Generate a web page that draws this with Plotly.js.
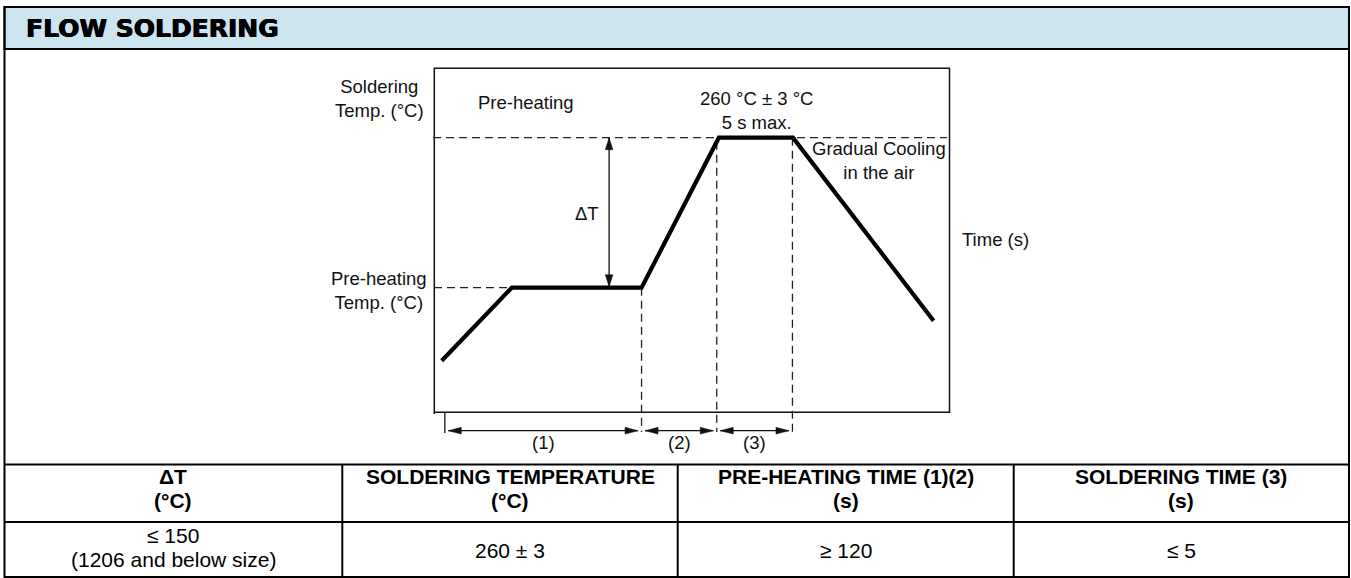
<!DOCTYPE html>
<html><head><meta charset="utf-8">
<script src="https://cdn.plot.ly/plotly-3.0.1.min.js"></script>
<style>html,body{margin:0;padding:0;background:#fff;overflow:hidden}</style>
</head><body><div id="chart" style="width:1351px;height:578px"></div>
<script>
// ---------------- data ----------------
const chartTitle = 'FLOW SOLDERING';
const profileTime = [1.5, 15.1, 40.3, 55.3, 69.7, 97.0];   // schematic time units
const profileTemp = [37, 110, 110, 260, 260, 77];           // schematic °C
const solderTemp = 260;
const preheatTemp = 110;
const phaseStart = [2.1, 40.3, 54.9];
const phaseEnd = [40.3, 54.9, 69.6];
const phaseLabels = ['(1)', '(2)', '(3)'];
const deltaTTime = 34.0;
const tableHeaders = ['ΔT<br>(°C)', 'SOLDERING TEMPERATURE<br>(°C)', 'PRE-HEATING TIME (1)(2)<br>(s)', 'SOLDERING TIME (3)<br>(s)'];
const tableValues = ['≤ 150<br>(1206 and below size)', '260 ± 3', '≥ 120', '≤ 5'];

// ---------------- layout helpers ----------------
const W = 1351, H = 578;
const X0_PX = 434, PX_PER_T = 5.15;          // pixel of t=0 and scale
const REF_PY = 137.7, PX_PER_DEG = 1.0;      // pixel of the soldering temperature level
const xRange = [(0 - X0_PX) / PX_PER_T, (W - X0_PX) / PX_PER_T];
const yRange = [solderTemp - (H - REF_PY) / PX_PER_DEG, solderTemp + REF_PY / PX_PER_DEG];
const tx = px => (px - X0_PX) / PX_PER_T;
const ty = py => solderTemp - (py - REF_PY) / PX_PER_DEG;
const PX = px => px / W;
const PY = py => 1 - py / H;

const INK = '#111';
const FONT = 'Liberation Sans, Arial, Helvetica, sans-serif';
const shapes = [];
const annotations = [];

// ---------- frame / table (paper) ----------
const L = 4.5, R = 1349, T = 7, B = 577;
shapes.push({type:'rect', xref:'paper', yref:'paper', x0:PX(L), x1:PX(R), y0:PY(T), y1:PY(49),
  fillcolor:'#cde4f1', line:{color:'#000', width:2}, layer:'below'});
shapes.push({type:'rect', xref:'paper', yref:'paper', x0:PX(L), x1:PX(R), y0:PY(T), y1:PY(B),
  line:{color:'#000', width:2}});
[464.5, 522].forEach(y => shapes.push({type:'line', xref:'paper', yref:'paper', x0:PX(L), x1:PX(R), y0:PY(y), y1:PY(y), line:{color:'#000', width:2}}));
const colEdges = [L, 342.3, 677.7, 1013.7, R];
colEdges.slice(1, -1).forEach(x => shapes.push({type:'line', xref:'paper', yref:'paper', x0:PX(x), x1:PX(x), y0:PY(464.5), y1:PY(B), line:{color:'#000', width:2}}));

annotations.push({xref:'paper', yref:'paper', x:PX(24), y:PY(28.5), xanchor:'left', yanchor:'middle', showarrow:false,
  text:'<b>' + chartTitle + '</b>',
  font:{family:'DejaVu Sans, sans-serif', size:25, color:'#000', shadow:'0.6px 0 0 #000, -0.4px 0 0 #000'}});

function cellLines(text, cx, centerY, spacing, bold) {
  const lines = text.split('<br>');
  const y0 = centerY - (lines.length - 1) * spacing / 2;
  lines.forEach((ln, k) => annotations.push({xref:'paper', yref:'paper', x:PX(cx), y:PY(y0 + k * spacing),
    xanchor:'center', yanchor:'middle', showarrow:false,
    text: bold ? '<b>' + ln + '</b>' : ln, font:{family:FONT, size:21, color:'#000'}}));
}
tableHeaders.forEach((t, i) => {
  const cx = (colEdges[i] + colEdges[i + 1]) / 2;
  cellLines(t, cx, 488, 24, true);
  cellLines(tableValues[i], cx, tableValues[i].includes('<br>') ? 547.5 : 550, 23.5, false);
});

// ---------- diagram (data coords) ----------
const frame = {x0:tx(434.3), x1:tx(949.5), y0:ty(412.3), y1:ty(68.3)};
shapes.push({type:'rect', xref:'x', yref:'y', x0:frame.x0, x1:frame.x1, y0:frame.y0, y1:frame.y1, line:{color:INK, width:1.5}});
shapes.push({type:'line', xref:'x', yref:'y', x0:frame.x0, x1:frame.x0, y0:frame.y0, y1:ty(414), line:{color:INK, width:1.5}});

const dash = {color:'#222', width:1.3, dash:'8px,5px'};
shapes.push({type:'line', xref:'x', yref:'y', x0:tx(433), x1:tx(947), y0:solderTemp, y1:solderTemp, line:dash, layer:'below'});
shapes.push({type:'line', xref:'x', yref:'y', x0:tx(434), x1:profileTime[1], y0:preheatTemp, y1:preheatTemp, line:dash, layer:'below'});

function tempAt(t) {
  for (let i = 0; i < profileTime.length - 1; i++) {
    if (t >= profileTime[i] && t <= profileTime[i + 1]) {
      const f = (t - profileTime[i]) / (profileTime[i + 1] - profileTime[i]);
      return profileTemp[i] + f * (profileTemp[i + 1] - profileTemp[i]);
    }
  }
  return solderTemp;
}
const arrowY = ty(430.7);
phaseEnd.forEach(t => shapes.push({type:'line', xref:'x', yref:'y', x0:t, x1:t, y0:Math.min(tempAt(t), solderTemp), y1:ty(432), line:dash, layer:'below'}));
shapes.push({type:'line', xref:'x', yref:'y', x0:phaseStart[0], x1:phaseStart[0], y0:ty(413), y1:ty(433), line:{color:INK, width:1.3}});

const hLen = 13 / PX_PER_T, hHalf = 3.4 / PX_PER_DEG;
const gap = 3.5 / PX_PER_T;
function hHead(xt, y, dir) {
  return `M ${xt},${y} L ${xt + dir * hLen},${y + hHalf} L ${xt + dir * hLen},${y - hHalf} Z`;
}
phaseStart.forEach((s, i) => {
  const a = s + gap, b = phaseEnd[i] - gap;
  shapes.push({type:'line', xref:'x', yref:'y', x0:a, x1:b, y0:arrowY, y1:arrowY, line:{color:INK, width:1.3}});
  shapes.push({type:'path', xref:'x', yref:'y', path:hHead(a, arrowY, 1), fillcolor:INK, line:{color:INK, width:0.5}});
  shapes.push({type:'path', xref:'x', yref:'y', path:hHead(b, arrowY, -1), fillcolor:INK, line:{color:INK, width:0.5}});
  annotations.push({xref:'x', yref:'y', x:(s + phaseEnd[i]) / 2, y:ty(442), xanchor:'center', yanchor:'middle', showarrow:false,
    text:phaseLabels[i], font:{family:FONT, size:18.5, color:INK}});
});

// ΔT arrow
const vLen = 12 / PX_PER_DEG, vHalf = 3.8 / PX_PER_T;
function vHead(x, yt, dir) {
  return `M ${x},${yt} L ${x + vHalf},${yt + dir * vLen} L ${x - vHalf},${yt + dir * vLen} Z`;
}
shapes.push({type:'line', xref:'x', yref:'y', x0:deltaTTime, x1:deltaTTime, y0:preheatTemp, y1:solderTemp, line:{color:INK, width:1.3}});
shapes.push({type:'path', xref:'x', yref:'y', path:vHead(deltaTTime, solderTemp, -1), fillcolor:INK, line:{color:INK, width:0.5}});
shapes.push({type:'path', xref:'x', yref:'y', path:vHead(deltaTTime, preheatTemp + 1, 1), fillcolor:INK, line:{color:INK, width:0.5}});

// diagram labels
const lbl = (x, y, text, anchor) => annotations.push({xref:'paper', yref:'paper', x:PX(x), y:PY(y), xanchor:anchor || 'center', yanchor:'middle',
  align:'center', showarrow:false, text:text, font:{family:FONT, size:18.5, color:INK}});
lbl(379, 99, 'Soldering<br>Temp. (°C)');
lbl(526, 102.7, 'Pre-heating');
lbl(756, 110.3, '260 °C ± 3 °C<br>5 s max.');
lbl(879.5, 160.3, 'Gradual Cooling<br>in the air');
lbl(960, 239.5, 'Time (s)', 'left');
lbl(379, 290, 'Pre-heating<br>Temp. (°C)');
lbl(587, 213, 'ΔT');

const traces = [{
  type:'scatter', mode:'lines', x:profileTime, y:profileTemp,
  line:{color:'#000', width:4.2}, hoverinfo:'skip', cliponaxis:false
}];

const layout = {
  width:W, height:H, margin:{l:0, r:0, t:0, b:0, pad:0},
  paper_bgcolor:'#fff', plot_bgcolor:'rgba(0,0,0,0)', showlegend:false,
  xaxis:{range:xRange, visible:false, fixedrange:true, domain:[0, 1]},
  yaxis:{range:yRange, visible:false, fixedrange:true, domain:[0, 1]},
  shapes:shapes, annotations:annotations
};
Plotly.newPlot('chart', traces, layout, {staticPlot:true, displayModeBar:false});
</script></body></html>
